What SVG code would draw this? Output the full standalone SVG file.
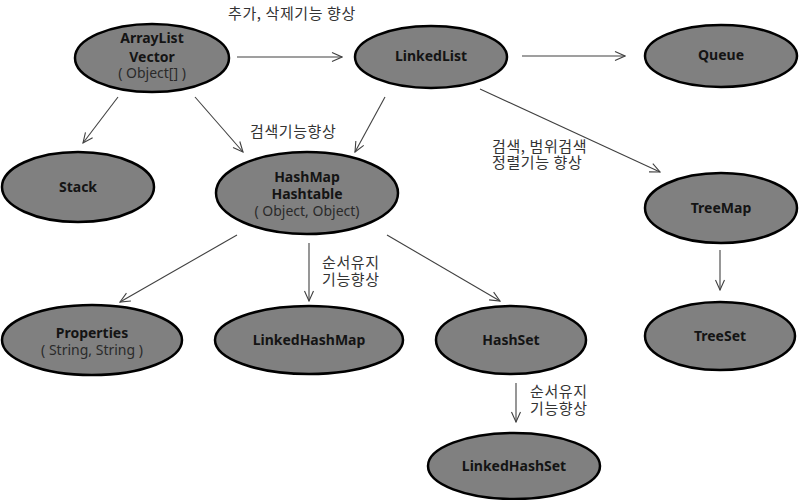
<svg xmlns="http://www.w3.org/2000/svg" width="800" height="500" viewBox="0 0 800 500">
<defs>
<marker id="arr" viewBox="0 0 12 12" refX="11" refY="6" markerWidth="12" markerHeight="12" markerUnits="userSpaceOnUse" orient="auto">
<polyline points="1,1.5 11,6 1,10.5" fill="none" stroke="#404040" stroke-width="1.1"/>
</marker>
<style>
.n{fill:#808080;stroke:#000;stroke-width:2.5}
.t{font-family:"Noto Sans","Noto Sans CJK KR",sans-serif;font-size:14px;font-weight:bold;fill:#141414;text-anchor:middle}
.s{font-family:"Noto Sans","Noto Sans CJK KR",sans-serif;font-size:14px;fill:#2a2a2a;text-anchor:middle}
.k{font-family:"Noto Sans CJK KR",sans-serif;font-size:15px;letter-spacing:0.6px;fill:#333}
.c{stroke:#404040;stroke-width:1.1;fill:none;marker-end:url(#arr)}
</style>
</defs>
<rect width="800" height="500" fill="#fff"/>
<g id="connectors">
<line class="c" x1="237" y1="57" x2="342" y2="57"/>
<line class="c" x1="522" y1="56" x2="625" y2="56"/>
<line class="c" x1="118" y1="97" x2="83" y2="143"/>
<line class="c" x1="195" y1="97" x2="243" y2="152"/>
<line class="c" x1="385" y1="97" x2="355" y2="152"/>
<line class="c" x1="480" y1="89" x2="660" y2="172"/>
<line class="c" x1="720" y1="250" x2="720" y2="290"/>
<line class="c" x1="237" y1="235" x2="120" y2="302"/>
<line class="c" x1="309" y1="243" x2="309" y2="301"/>
<line class="c" x1="387" y1="235" x2="500" y2="301"/>
<line class="c" x1="516" y1="383" x2="516" y2="422"/>
</g>
<g id="labels">
<text class="k" x="228" y="19">추가, 삭제기능 향상</text>
<text class="k" x="250" y="137">검색기능향상</text>
<text class="k" x="492" y="152">검색, 범위검색</text>
<text class="k" x="492" y="168">정렬기능 향상</text>
<text class="k" x="322" y="268">순서유지</text>
<text class="k" x="322" y="285">기능향상</text>
<text class="k" x="530" y="397">순서유지</text>
<text class="k" x="530" y="414">기능향상</text>
</g>
<g id="arraylist">
<ellipse class="n" cx="152" cy="58" rx="77" ry="34"/>
<text class="t" x="152" y="43">ArrayList</text>
<text class="t" x="152" y="62">Vector</text>
<text class="s" x="152" y="78">( Object[] )</text>
</g>
<g id="linkedlist">
<ellipse class="n" cx="431" cy="57" rx="76" ry="31"/>
<text class="t" x="431" y="61">LinkedList</text>
</g>
<g id="queue">
<ellipse class="n" cx="721" cy="56" rx="76" ry="31"/>
<text class="t" x="721" y="60">Queue</text>
</g>
<g id="stack">
<ellipse class="n" cx="78" cy="187" rx="76" ry="35"/>
<text class="t" x="78" y="192">Stack</text>
</g>
<g id="hashmap">
<ellipse class="n" cx="307" cy="193" rx="91" ry="41"/>
<text class="t" x="307" y="182">HashMap</text>
<text class="t" x="307" y="199">Hashtable</text>
<text class="s" x="307" y="216">( Object, Object)</text>
</g>
<g id="treemap">
<ellipse class="n" cx="721" cy="208" rx="76" ry="35"/>
<text class="t" x="721" y="213">TreeMap</text>
</g>
<g id="treeset">
<ellipse class="n" cx="720" cy="336" rx="75" ry="34"/>
<text class="t" x="720" y="341">TreeSet</text>
</g>
<g id="properties">
<ellipse class="n" cx="92" cy="340" rx="90" ry="35"/>
<text class="t" x="92" y="338">Properties</text>
<text class="s" x="92" y="355">( String, String )</text>
</g>
<g id="linkedhashmap">
<ellipse class="n" cx="309" cy="340" rx="94" ry="34"/>
<text class="t" x="309" y="345">LinkedHashMap</text>
</g>
<g id="hashset">
<ellipse class="n" cx="511" cy="340" rx="75" ry="34"/>
<text class="t" x="511" y="345">HashSet</text>
</g>
<g id="linkedhashset">
<ellipse class="n" cx="514" cy="466" rx="86" ry="33"/>
<text class="t" x="514" y="471">LinkedHashSet</text>
</g>
</svg>
